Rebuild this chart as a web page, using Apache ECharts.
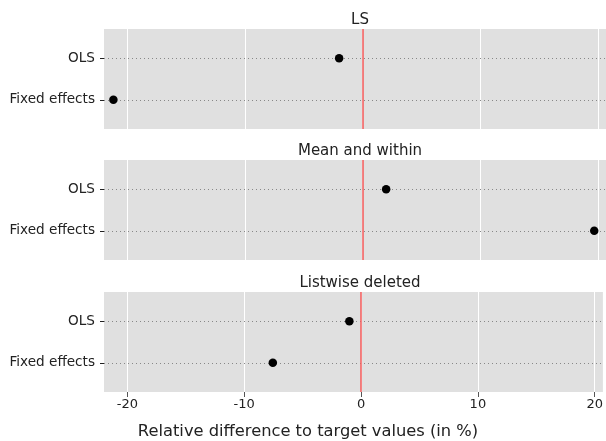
<!DOCTYPE html>
<html><head><meta charset="utf-8">
<script src="https://cdn.jsdelivr.net/npm/echarts@6/dist/echarts.min.js"></script>
<style>html,body{margin:0;padding:0;background:#fff}#c{width:606px;height:441px}</style>
</head><body><div id="c"></div>
<script>
const panels = ['LS', 'Mean and within', 'Listwise deleted'];
const categories = ['Fixed effects', 'OLS']; // bottom to top
const olsValues = [-2.0, 2.0, -1.0];
const feValues = [-21.2, 19.7, -7.55];
const xTicks = [-20, -10, 0, 10, 20];
const xTitle = 'Relative difference to target values (in %)';

const font = 'DejaVu Sans';
const tops = [29, 160, 292];
const H = 100;
const grids = [], xAxes = [], yAxes = [], series = [], titles = [];
panels.forEach((p, i) => {
  grids.push({left: 104, right: 0, top: tops[i], height: H, backgroundColor: '#e0e0e0', show: true, borderWidth: 0});
  const last = i === panels.length - 1;
  xAxes.push({
    type: 'value', gridIndex: i, min: -22, max: 20.7,
    axisLine: {show: false, onZero: false},
    axisTick: {show: last, customValues: xTicks, length: 5, lineStyle: {color: '#555', width: 1}},
    axisLabel: {show: last, customValues: xTicks, color: '#222', fontFamily: font, fontSize: 13, margin: 6},
    splitLine: {show: true, lineStyle: {color: '#fff', width: 1}}
  });
  yAxes.push({
    type: 'value', gridIndex: i, min: -0.7, max: 1.7,
    axisLine: {show: false, onZero: false},
    axisTick: {show: true, customValues: [0, 1], length: 4, lineStyle: {color: '#222', width: 1}},
    axisLabel: {customValues: [0, 1], formatter: v => categories[Math.round(v)] || '', color: '#222', fontFamily: font, fontSize: 13.6, margin: 9},
    splitLine: {show: false}
  });
  titles.push({text: p, left: 355, textAlign: 'center', top: tops[i] - 21, textStyle: {fontFamily: font, fontSize: 15, fontWeight: 'normal', color: '#222'}});
  series.push({
    type: 'scatter', xAxisIndex: i, yAxisIndex: i, symbolSize: 8.5, itemStyle: {color: '#000', opacity: 1}, z: 5,
    data: [[feValues[i], 0], [olsValues[i], 1]],
    markLine: {
      silent: true, symbol: 'none', label: {show: false}, animation: false,
      data: [
        {yAxis: 0, lineStyle: {color: '#888', type: [1, 3], width: 1}},
        {yAxis: 1, lineStyle: {color: '#888', type: [1, 3], width: 1}},
        {xAxis: 0, lineStyle: {color: '#f55a5a', type: 'solid', width: 1.5}}
      ]
    }
  });
});
titles.push({text: xTitle, left: 303, textAlign: 'center', top: 419, textStyle: {fontFamily: font, fontSize: 16.3, fontWeight: 'normal', color: '#222'}});

const chart = echarts.init(document.getElementById('c'), null, {renderer: 'canvas'});
chart.setOption({animation: false, title: titles, grid: grids, xAxis: xAxes, yAxis: yAxes, series: series});
</script></body></html>
